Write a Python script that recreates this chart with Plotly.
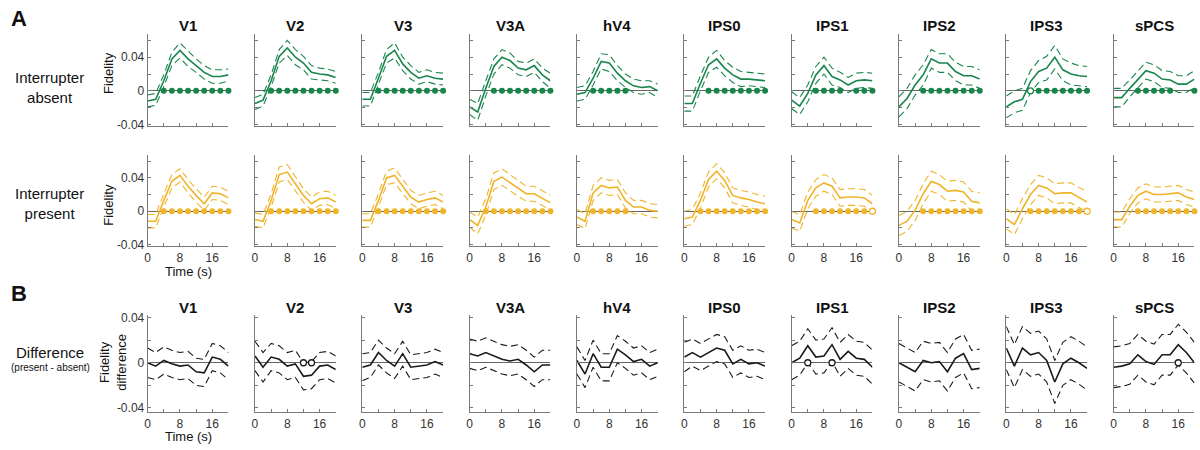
import plotly.graph_objects as go

times = [0, 2, 4, 6, 8, 10, 12, 14, 16, 18, 20]
regions = ["V1", "V2", "V3", "V3A", "hV4", "IPS0", "IPS1", "IPS2", "IPS3", "sPCS"]

# Interrupter absent: mean fidelity and half-width of the error band
absent_mean = [
    [-0.012, -0.010, 0.012, 0.038, 0.048, 0.038, 0.030, 0.022, 0.017, 0.017, 0.019],
    [-0.015, -0.011, 0.012, 0.041, 0.051, 0.040, 0.033, 0.022, 0.020, 0.019, 0.016],
    [-0.010, -0.010, 0.015, 0.041, 0.048, 0.032, 0.022, 0.015, 0.018, 0.015, 0.014],
    [-0.019, -0.025, 0.003, 0.029, 0.040, 0.036, 0.027, 0.025, 0.030, 0.019, 0.012],
    [-0.004, -0.002, 0.015, 0.035, 0.033, 0.021, 0.012, 0.006, 0.004, 0.005, 0.000],
    [-0.015, -0.015, 0.009, 0.031, 0.038, 0.027, 0.019, 0.014, 0.014, 0.013, 0.012],
    [-0.011, -0.018, -0.003, 0.019, 0.030, 0.017, 0.013, 0.007, 0.012, 0.013, 0.012],
    [-0.019, -0.009, 0.007, 0.019, 0.038, 0.033, 0.033, 0.023, 0.018, 0.018, 0.014],
    [-0.019, -0.013, -0.010, 0.011, 0.023, 0.027, 0.040, 0.025, 0.020, 0.018, 0.017],
    [-0.008, -0.008, 0.003, 0.013, 0.024, 0.021, 0.014, 0.013, 0.008, 0.008, 0.014],
]
absent_hw = [
    [0.007, 0.007, 0.007, 0.008, 0.009, 0.009, 0.008, 0.008, 0.008, 0.008, 0.007],
    [0.007, 0.007, 0.007, 0.008, 0.009, 0.009, 0.008, 0.008, 0.007, 0.007, 0.007],
    [0.008, 0.008, 0.007, 0.008, 0.009, 0.008, 0.008, 0.007, 0.007, 0.007, 0.007],
    [0.009, 0.010, 0.009, 0.009, 0.009, 0.009, 0.008, 0.008, 0.008, 0.008, 0.009],
    [0.008, 0.008, 0.008, 0.009, 0.010, 0.009, 0.008, 0.008, 0.008, 0.007, 0.008],
    [0.009, 0.009, 0.009, 0.009, 0.010, 0.009, 0.009, 0.009, 0.008, 0.008, 0.008],
    [0.010, 0.010, 0.010, 0.010, 0.010, 0.010, 0.009, 0.009, 0.009, 0.009, 0.009],
    [0.012, 0.012, 0.012, 0.012, 0.011, 0.011, 0.011, 0.011, 0.011, 0.011, 0.011],
    [0.013, 0.013, 0.013, 0.013, 0.013, 0.014, 0.014, 0.013, 0.013, 0.012, 0.012],
    [0.011, 0.011, 0.010, 0.010, 0.010, 0.010, 0.010, 0.010, 0.010, 0.010, 0.010],
]
absent_sig = [
    [4, 6, 8, 10, 12, 14, 16, 18, 20],
    [4, 6, 8, 10, 12, 14, 16, 18, 20],
    [4, 6, 8, 10, 12, 14, 16, 18, 20],
    [6, 8, 10, 12, 14, 16, 18, 20],
    [4, 6, 8, 10, 12],
    [6, 8, 10, 12, 14, 16, 18, 20],
    [6, 8, 10, 12, 16, 18, 20],
    [6, 8, 10, 12, 14, 16, 18, 20],
    [8, 10, 12, 14, 16, 18, 20],
    [6, 8, 10, 12, 14, 20],
]
absent_open = [[], [], [], [], [], [], [], [], [6], []]

# Interrupter present
present_mean = [
    [-0.012, -0.012, 0.013, 0.036, 0.043, 0.030, 0.019, 0.009, 0.022, 0.021, 0.016],
    [-0.010, -0.012, 0.013, 0.044, 0.047, 0.033, 0.019, 0.009, 0.015, 0.016, 0.011],
    [-0.011, -0.011, 0.013, 0.040, 0.043, 0.030, 0.017, 0.011, 0.014, 0.016, 0.011],
    [-0.010, -0.017, 0.005, 0.036, 0.041, 0.034, 0.027, 0.021, 0.021, 0.016, 0.010],
    [-0.007, -0.012, 0.022, 0.031, 0.028, 0.029, 0.013, 0.005, 0.005, 0.001, 0.000],
    [-0.009, -0.007, 0.013, 0.038, 0.048, 0.037, 0.019, 0.016, 0.014, 0.011, 0.009],
    [-0.010, -0.014, 0.013, 0.028, 0.034, 0.030, 0.016, 0.017, 0.017, 0.016, 0.009],
    [-0.017, -0.012, 0.001, 0.021, 0.036, 0.032, 0.024, 0.025, 0.023, 0.012, 0.010],
    [-0.009, -0.016, 0.003, 0.020, 0.031, 0.028, 0.021, 0.022, 0.022, 0.017, 0.011],
    [-0.010, -0.010, 0.006, 0.019, 0.024, 0.020, 0.020, 0.021, 0.022, 0.017, 0.014],
]
present_hw = [
    [0.008, 0.008, 0.008, 0.008, 0.008, 0.008, 0.008, 0.008, 0.008, 0.008, 0.008],
    [0.008, 0.008, 0.008, 0.009, 0.009, 0.008, 0.008, 0.008, 0.008, 0.008, 0.008],
    [0.008, 0.008, 0.008, 0.008, 0.009, 0.008, 0.008, 0.008, 0.008, 0.008, 0.008],
    [0.009, 0.010, 0.010, 0.010, 0.010, 0.010, 0.009, 0.009, 0.009, 0.009, 0.009],
    [0.009, 0.009, 0.009, 0.009, 0.009, 0.009, 0.009, 0.008, 0.008, 0.008, 0.008],
    [0.009, 0.009, 0.009, 0.009, 0.009, 0.009, 0.009, 0.009, 0.009, 0.009, 0.009],
    [0.010, 0.010, 0.010, 0.010, 0.010, 0.010, 0.010, 0.010, 0.010, 0.010, 0.010],
    [0.012, 0.012, 0.012, 0.012, 0.012, 0.012, 0.012, 0.012, 0.012, 0.012, 0.012],
    [0.012, 0.012, 0.012, 0.012, 0.012, 0.012, 0.012, 0.012, 0.012, 0.012, 0.012],
    [0.009, 0.009, 0.009, 0.009, 0.009, 0.009, 0.009, 0.009, 0.009, 0.009, 0.009],
]
present_sig = [
    [4, 6, 8, 10, 12, 14, 16, 18, 20],
    [4, 6, 8, 10, 12, 14, 16, 18, 20],
    [4, 6, 8, 10, 12, 14, 16, 18, 20],
    [4, 6, 8, 10, 12, 14, 16, 18, 20],
    [4, 6, 8, 10, 12],
    [4, 6, 8, 10, 12, 14, 16, 18, 20],
    [6, 8, 10, 12, 14, 16, 18],
    [6, 8, 10, 12, 14, 16, 18, 20],
    [6, 8, 10, 12, 14, 16, 18],
    [6, 8, 10, 12, 14, 16, 18, 20],
]
present_open = [[], [], [], [], [], [], [20], [], [20], []]

# Difference (present - absent)
diff_mean = [
    [0.000, -0.003, 0.002, -0.001, -0.003, -0.002, -0.008, -0.009, 0.005, 0.003, -0.003],
    [0.006, -0.004, 0.005, 0.003, -0.003, -0.001, -0.012, -0.011, -0.003, -0.002, -0.006],
    [-0.004, -0.002, 0.009, 0.002, -0.003, 0.008, -0.004, -0.003, -0.002, 0.001, -0.002],
    [0.008, 0.006, 0.009, 0.006, 0.003, 0.0015, 0.003, -0.002, -0.008, -0.002, -0.002],
    [0.002, -0.010, 0.008, -0.004, -0.004, 0.012, 0.007, 0.001, 0.003, -0.003, 0.000],
    [0.005, 0.009, 0.005, 0.009, 0.013, 0.011, -0.001, 0.003, -0.001, 0.000, -0.003],
    [0.000, 0.004, 0.015, 0.005, 0.006, 0.016, 0.003, 0.010, 0.004, 0.003, -0.004],
    [0.000, -0.004, -0.008, 0.002, 0.000, 0.001, -0.008, 0.004, 0.008, -0.006, -0.005],
    [0.013, -0.003, 0.013, 0.007, 0.009, 0.002, -0.017, -0.001, 0.004, 0.000, -0.005],
    [-0.004, -0.003, -0.001, 0.007, 0.001, -0.0015, 0.007, 0.007, 0.016, 0.009, 0.000],
]
diff_hw = [
    [0.013, 0.012, 0.012, 0.012, 0.012, 0.012, 0.012, 0.012, 0.012, 0.012, 0.012],
    [0.013, 0.013, 0.012, 0.012, 0.012, 0.012, 0.012, 0.012, 0.012, 0.012, 0.012],
    [0.012, 0.011, 0.011, 0.011, 0.011, 0.011, 0.011, 0.011, 0.011, 0.011, 0.011],
    [0.013, 0.013, 0.013, 0.013, 0.013, 0.013, 0.013, 0.013, 0.013, 0.013, 0.013],
    [0.012, 0.012, 0.012, 0.012, 0.012, 0.012, 0.012, 0.012, 0.012, 0.012, 0.012],
    [0.013, 0.012, 0.012, 0.012, 0.012, 0.012, 0.012, 0.012, 0.012, 0.012, 0.012],
    [0.015, 0.015, 0.015, 0.015, 0.015, 0.015, 0.015, 0.015, 0.015, 0.015, 0.015],
    [0.017, 0.017, 0.017, 0.017, 0.017, 0.017, 0.017, 0.017, 0.017, 0.017, 0.017],
    [0.019, 0.019, 0.019, 0.019, 0.019, 0.019, 0.019, 0.019, 0.019, 0.019, 0.019],
    [0.018, 0.018, 0.018, 0.018, 0.018, 0.018, 0.018, 0.018, 0.018, 0.018, 0.018],
]
diff_open = [[], [12, 14], [], [], [], [], [4, 10], [], [], [16]]

GREEN = "#18864b"
YELLOW = "#f0b429"
BLACK = "#1a1a1a"
AXIS = "#7a7a7a"
FONT = "Liberation Sans"

W, H = 1200, 450
col_left = [145 + 107.6 * c for c in range(10)]
col_w = 81
row_pix = [(29.3, 124.3), (153.3, 247.3), (318.0, 417.7)]
row_range = [[-0.042, 0.068], [-0.042, 0.068], [-0.044, 0.042]]

fig = go.Figure()
layout = {}

rows = [
    (absent_mean, absent_hw, absent_sig, absent_open, GREEN),
    (present_mean, present_hw, present_sig, present_open, YELLOW),
    (diff_mean, diff_hw, None, diff_open, BLACK),
]

for r, (means, hws, sigs, opens, color) in enumerate(rows):
    for c in range(10):
        n = r * 10 + c + 1
        xa = "x" if n == 1 else f"x{n}"
        ya = "y" if n == 1 else f"y{n}"
        m = means[c]
        hw = hws[c]
        upper = [a + b for a, b in zip(m, hw)]
        lower = [a - b for a, b in zip(m, hw)]
        for band in (upper, lower):
            fig.add_trace(go.Scatter(x=times, y=band, mode="lines", xaxis=xa, yaxis=ya,
                                     line=dict(color=color, width=1.1, dash="7px,4px"),
                                     showlegend=False, hoverinfo="skip"))
        fig.add_trace(go.Scatter(x=times, y=m, mode="lines", xaxis=xa, yaxis=ya,
                                 line=dict(color=color, width=1.6),
                                 showlegend=False))
        if sigs is not None and sigs[c]:
            fig.add_trace(go.Scatter(x=sigs[c], y=[0] * len(sigs[c]), mode="markers",
                                     xaxis=xa, yaxis=ya, cliponaxis=False,
                                     marker=dict(color=color, size=6, line=dict(width=0)),
                                     showlegend=False))
        if opens[c]:
            fig.add_trace(go.Scatter(x=opens[c], y=[0] * len(opens[c]), mode="markers",
                                     xaxis=xa, yaxis=ya, cliponaxis=False,
                                     marker=dict(color="white", size=6,
                                                 line=dict(color=color, width=1.3)),
                                     showlegend=False))

        x0 = col_left[c] / W
        x1 = (col_left[c] + col_w) / W
        top, bot = row_pix[r]
        y0 = 1 - bot / H
        y1 = 1 - top / H
        xkey = "xaxis" if n == 1 else f"xaxis{n}"
        ykey = "yaxis" if n == 1 else f"yaxis{n}"
        layout[xkey] = dict(
            domain=[x0, x1], anchor=ya, range=[0, 20],
            tickvals=[0, 4, 8, 12, 16, 20], ticktext=["0", "", "8", "", "16", ""],
            showticklabels=(r > 0), ticks="inside", ticklen=3, tickcolor=AXIS,
            showline=True, linecolor=AXIS, linewidth=1, showgrid=False, zeroline=False,
            tickfont=dict(family=FONT, size=12, color="#333"),
        )
        if r < 2:
            yt = [-0.04, -0.02, 0, 0.02, 0.04, 0.06]
            ytt = ["-0.04", "", "0", "", "0.04", ""]
        else:
            yt = [-0.04, -0.02, 0, 0.02, 0.04]
            ytt = ["-0.04", "", "0", "", "0.04"]
        layout[ykey] = dict(
            domain=[y0, y1], anchor=xa, range=row_range[r],
            tickvals=yt, ticktext=ytt, showticklabels=(c == 0),
            ticks="inside", ticklen=3, tickcolor=AXIS,
            showline=True, linecolor=AXIS, linewidth=1, showgrid=False,
            zeroline=True, zerolinecolor="#666666", zerolinewidth=1,
            tickfont=dict(family=FONT, size=12, color="#333"),
        )

annotations = []


def ann(text, px, py, size, bold=False, angle=0, xanchor="center", color="#111"):
    if bold:
        text = f"<b>{text}</b>"
    annotations.append(dict(text=text, x=px / W, y=1 - py / H, xref="paper", yref="paper",
                            showarrow=False, textangle=angle, xanchor=xanchor, yanchor="middle",
                            font=dict(family=FONT, size=size, color=color)))


for c, name in enumerate(regions):
    cx = col_left[c] + col_w / 2
    ann(name, cx, 21, 15, bold=True)
    ann(name, cx, 310, 15, bold=True)

ann("A", 16, 14, 22, bold=True)
ann("B", 16, 296, 22, bold=True)
ann("Interrupter<br>absent", 47, 85, 15)
ann("Interrupter<br>present", 47, 203, 15)
ann("Difference", 47, 356, 15)
ann("(present - absent)", 48, 372, 10)
ann("Fidelity", 106, 70, 13, angle=-90)
ann("Fidelity", 106, 205, 13, angle=-90)
ann("Fidelity<br>difference", 110, 366, 13, angle=-90)
ann("Time (s)", 186, 273, 13)
ann("Time (s)", 186, 442, 13)

fig.update_layout(
    width=W, height=H, margin=dict(l=0, r=0, t=0, b=0),
    paper_bgcolor="white", plot_bgcolor="white",
    annotations=annotations, showlegend=False,
    **layout,
)

fig.write_html(
    "out.html",
    config={"displayModeBar": False},
    post_script="document.body.style.margin='0';document.body.style.padding='0';"
                "document.documentElement.style.overflow='hidden';",
)
